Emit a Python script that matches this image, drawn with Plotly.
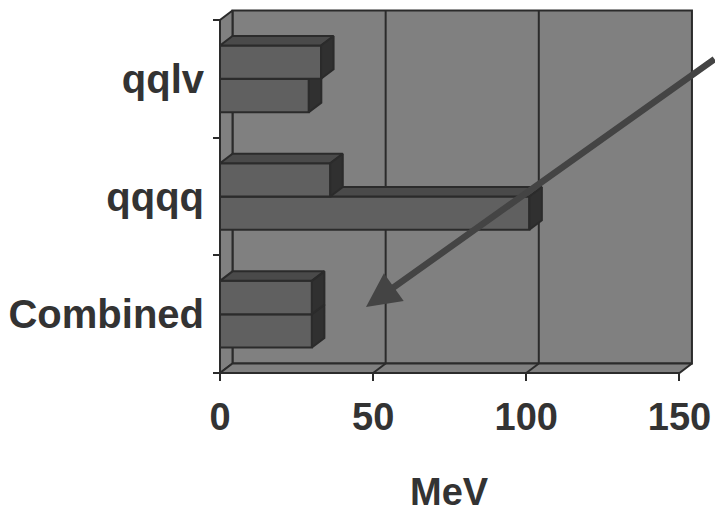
import plotly.graph_objects as go

# ---- data ----
categories = ["Combined", "qqqq", "qqlv"]          # bottom -> top
series_lower = [30, 101, 29]                        # lower bar in each cluster (MeV)
series_upper = [30, 36, 33]                         # upper bar in each cluster (MeV)
x_tick_vals = [0, 50, 100, 150]
x_tick_text = ["0", "50", "100", "150"]
x_axis_title = "MeV"

# ---- styling / geometry ----
W, H = 715, 513
PX_X = 3.063          # px per MeV
PX_Y = 117.67         # px per category band
X0_PX, Y0_PX = 220, 373
PLOT_L, PLOT_R, PLOT_T, PLOT_B = 212, 715, 0, 381
XMAX = 150
NCAT = len(categories)
DX = 12.5 / PX_X      # depth offset in data units
DY = 9.5 / PX_Y
BAR_H = 0.283

WALL = "#808080"
FRONT = "#606060"
TOP = "#4a4a4a"
SIDE = "#303030"
EDGE = "#2b2b2b"
TXT = "#333333"
FONT = "Liberation Sans"

x_range = [(PLOT_L - X0_PX) / PX_X, (PLOT_R - X0_PX) / PX_X]
y_range = [(Y0_PX - PLOT_B) / PX_Y, (Y0_PX - PLOT_T) / PX_Y]

fig = go.Figure()


def poly(pts, fill, width=2):
    xs = [p[0] for p in pts] + [pts[0][0]]
    ys = [p[1] for p in pts] + [pts[0][1]]
    fig.add_trace(go.Scatter(x=xs, y=ys, mode="lines", fill="toself", fillcolor=fill,
                             line=dict(color=EDGE, width=width), hoverinfo="skip",
                             showlegend=False))


def seg(x1, y1, x2, y2, width=2):
    fig.add_trace(go.Scatter(x=[x1, x2], y=[y1, y2], mode="lines",
                             line=dict(color=EDGE, width=width), hoverinfo="skip",
                             showlegend=False))


# walls
poly([(DX, DY), (XMAX + DX, DY), (XMAX + DX, NCAT + DY), (DX, NCAT + DY)], WALL)
poly([(0, 0), (0, NCAT), (DX, NCAT + DY), (DX, DY)], WALL)
poly([(0, 0), (XMAX, 0), (XMAX + DX, DY), (DX, DY)], WALL)
for v in x_tick_vals[1:-1]:
    seg(v + DX, DY, v + DX, NCAT + DY)
    seg(v, 0, v + DX, DY)


def bar3d(value, y0, y1):
    poly([(0, y0), (value, y0), (value, y1), (0, y1)], FRONT)
    poly([(0, y1), (value, y1), (value + DX, y1 + DY), (DX, y1 + DY)], TOP)
    poly([(value, y0), (value + DX, y0 + DY), (value + DX, y1 + DY), (value, y1)], SIDE)


for i in range(NCAT):
    c = i + 0.5
    bar3d(series_lower[i], c - BAR_H, c)
    bar3d(series_upper[i], c, c + BAR_H)

# arrow (annotation, in data coordinates)
arrow_tip = ((366 - X0_PX) / PX_X, (Y0_PX - 307) / PX_Y)
arrow_tail = ((716 - X0_PX) / PX_X, (Y0_PX - 58) / PX_Y)
fig.add_annotation(x=arrow_tip[0], y=arrow_tip[1], ax=arrow_tail[0], ay=arrow_tail[1],
                   xref="x", yref="y", axref="x", ayref="y", text="", showarrow=True,
                   arrowhead=2, arrowsize=1.05, arrowwidth=6.5, arrowcolor="#444444")

fig.add_annotation(x=XMAX / 2, xref="x", y=(PLOT_B - 492) / (PLOT_B - PLOT_T), yref="paper",
                   text=x_axis_title, showarrow=False, yanchor="middle",
                   font=dict(family=FONT, size=38, color=TXT, weight="bold"))

fig.update_layout(
    width=W, height=H,
    margin=dict(l=PLOT_L, r=W - PLOT_R, t=PLOT_T, b=H - PLOT_B),
    paper_bgcolor="white", plot_bgcolor="white",
    showlegend=False,
    xaxis=dict(range=x_range, anchor="free",
               position=(0 - y_range[0]) / (y_range[1] - y_range[0]),
               tickvals=x_tick_vals, ticktext=x_tick_text,
               ticks="outside", ticklen=7, tickwidth=2, tickcolor=EDGE,
               ticklabelstandoff=3,
               showgrid=False, zeroline=False, showline=False,
               tickfont=dict(family=FONT, size=38, color=TXT, weight="bold")),
    yaxis=dict(range=y_range, anchor="free",
               position=(0 - x_range[0]) / (x_range[1] - x_range[0]),
               tickvals=[i + 0.5 for i in range(NCAT)], ticktext=categories,
               ticks="", ticklabelstandoff=16,
               minor=dict(tickvals=list(range(NCAT + 1)), ticks="outside", ticklen=7,
                          tickwidth=2, tickcolor=EDGE, showgrid=False),
               showgrid=False, zeroline=False, showline=False,
               tickfont=dict(family=FONT, size=40, color=TXT, weight="bold")),
)

fig.write_html("out.html")
